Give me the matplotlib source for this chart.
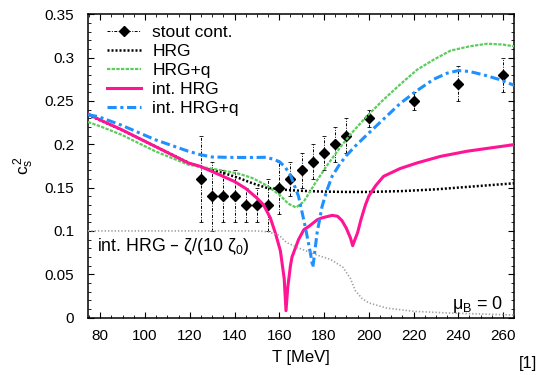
import matplotlib
matplotlib.use("Agg")
import matplotlib.pyplot as plt
from matplotlib.lines import Line2D
from matplotlib.ticker import MultipleLocator, FormatStrFormatter

plt.rcParams.update({"font.family": "Liberation Sans", "font.size": 11,
                     "mathtext.default": "regular", "axes.linewidth": 1.1})

# lattice data (stout continuum)
T_lat = [125, 130, 135, 140, 145, 150, 155, 160, 165, 170, 175, 180, 185, 190, 200, 220, 240, 260]
cs2_lat = [0.16, 0.14, 0.14, 0.14, 0.13, 0.13, 0.13, 0.15, 0.16, 0.17, 0.18, 0.19, 0.20, 0.21,
           0.23, 0.25, 0.27, 0.28]
err_lat = [0.05, 0.04, 0.03, 0.03, 0.02, 0.02, 0.03, 0.03, 0.02, 0.02, 0.02, 0.02, 0.02, 0.02,
           0.01, 0.01, 0.02, 0.02]

# HRG
T_hrg = [74.5, 90, 105, 120, 127, 135, 142, 148, 154, 160, 168, 178, 190, 200, 215, 230, 245, 265]
cs2_hrg = [0.234, 0.216, 0.197, 0.178, 0.172, 0.167, 0.161, 0.155, 0.150, 0.148, 0.1465, 0.1455,
           0.145, 0.145, 0.146, 0.148, 0.151, 0.155]

# HRG+q
T_hrgq = [74.5, 80, 89.5, 104.5, 119.3, 126, 134, 142, 148, 154, 160, 164, 167.5, 171, 176, 182,
          188, 192, 199, 206.6, 214, 221.6, 229, 236.5, 245, 253, 260, 265]
cs2_hrgq = [0.2257, 0.2207, 0.211, 0.192, 0.1765, 0.1735, 0.170, 0.166, 0.161, 0.153, 0.142,
            0.1315, 0.127, 0.134, 0.155, 0.178, 0.199, 0.212, 0.232, 0.2515, 0.269, 0.286,
            0.2976, 0.308, 0.313, 0.316, 0.315, 0.313]

# interacting HRG
T_ihrg = [74.5, 80, 89.5, 104.5, 119.3, 124.7, 134, 140, 145, 150, 153, 156, 158.2, 160.5, 162.2,
          163, 163.8, 165, 165.7, 168.6, 171, 173.1, 177, 179, 183.6, 186, 188, 190, 191.8, 192.8,
          193.8, 195, 196.5, 198.5, 200, 203, 206.6, 214, 221.6, 232, 244, 255, 265]
cs2_ihrg = [0.235, 0.228, 0.2169, 0.1976, 0.1785, 0.1745, 0.164, 0.157, 0.149, 0.138, 0.130,
            0.115, 0.098, 0.077, 0.045, 0.008, 0.035, 0.06, 0.07, 0.090, 0.1015, 0.105, 0.113,
            0.115, 0.118, 0.117, 0.112, 0.103, 0.092, 0.083, 0.090, 0.098, 0.113, 0.130, 0.140,
            0.152, 0.163, 0.172, 0.1785, 0.186, 0.192, 0.196, 0.1996]

# interacting HRG+q
T_ihrgq = [74.5, 79, 89.5, 104.5, 119.3, 124.7, 130, 140, 150, 154, 157, 160, 162.5, 164.9, 168.6,
           171.6, 173.9, 175, 176.9, 179.1, 181.3, 183.6, 187, 190, 194, 199.2, 206.6, 214,
           221.6, 229, 235, 240, 245, 251.4, 258, 265]
cs2_ihrgq = [0.234, 0.232, 0.222, 0.2053, 0.192, 0.188, 0.1853, 0.1848, 0.1848, 0.185, 0.183,
             0.180, 0.174, 0.165, 0.140, 0.105, 0.0746, 0.058, 0.0977, 0.128, 0.147, 0.163,
             0.177, 0.187, 0.198, 0.211, 0.229, 0.247, 0.262, 0.275, 0.282, 0.285, 0.284,
             0.280, 0.275, 0.268]

# int. HRG - zeta/(10 zeta0)
T_zeta = [74.5, 150, 155, 160, 163, 168, 172, 176, 183, 188.5, 191.8, 194, 197, 200, 208, 220,
          235, 265]
val_zeta = [0.1, 0.1, 0.099, 0.095, 0.087, 0.081, 0.077, 0.073, 0.067, 0.058, 0.045, 0.031,
            0.022, 0.017, 0.011, 0.0073, 0.0054, 0.003]

fig = plt.figure(figsize=(5.43, 3.75), dpi=100)
ax = fig.add_axes([0.162, 0.153, 0.785, 0.809])

eb = ax.errorbar(T_lat, cs2_lat, yerr=err_lat, fmt="none", ecolor="black", elinewidth=0.7,
                 capsize=1.5, capthick=0.6, zorder=2)
eb[2][0].set_linestyle((0, (3, 1.5, 1, 1.5)))
ax.plot(T_lat, cs2_lat, "D", color="black", ms=5.3, zorder=2)

ax.plot(T_hrg, cs2_hrg, color="black", lw=1.8, ls=(0, (0.8, 0.8)), zorder=3)
ax.plot(T_hrgq, cs2_hrgq, color="#5ccc5c", lw=1.6, ls=(0, (1.5, 0.6)), zorder=3)
ax.plot(T_ihrg, cs2_ihrg, color="#ff1493", lw=2.2, zorder=4)
ax.plot(T_ihrgq, cs2_ihrgq, color="#1e90ff", lw=2.2, ls=(0, (3, 1.2, 1, 1.2)), zorder=5)
ax.plot(T_zeta, val_zeta, color="#a0a0a0", lw=1.2, ls=(0, (0.8, 1.2)), zorder=6)

ax.set_xlim(74.5, 265)
ax.set_ylim(0, 0.35)
ax.xaxis.set_major_locator(MultipleLocator(20))
ax.xaxis.set_minor_locator(MultipleLocator(5))
ax.yaxis.set_major_locator(MultipleLocator(0.05))
ax.yaxis.set_minor_locator(MultipleLocator(0.01))
ax.yaxis.set_major_formatter(FormatStrFormatter("%g"))
ax.tick_params(which="both", direction="in", top=True, right=True)
ax.tick_params(which="major", length=4, width=0.8)
ax.tick_params(which="minor", length=2.2, width=0.6)
ax.tick_params(axis="y", pad=10)
ax.tick_params(axis="x", pad=8)

ax.set_xlabel("T [MeV]", fontsize=12, labelpad=5)
ax.set_ylabel(r"$c_s^{\,2}$", fontsize=12.5, labelpad=6)

ax.text(78.5, 0.0765, r"int. HRG – ζ/(10 ζ$_0$)", ha="left", va="baseline", fontsize=12.8)
ax.text(260, 0.010, r"μ$_B$ = 0", ha="right", va="baseline", fontsize=13)
fig.text(0.972, 0.03, "[1]", ha="center", va="center", fontsize=12)

handles = [Line2D([], [], color="black", lw=0.7, ls=(0, (3, 1.5, 1, 1.5)), marker="D", ms=5.3),
           Line2D([], [], color="black", lw=1.8, ls=(0, (0.8, 0.8))),
           Line2D([], [], color="#5ccc5c", lw=1.6, ls=(0, (1.5, 0.6))),
           Line2D([], [], color="#ff1493", lw=2.2),
           Line2D([], [], color="#1e90ff", lw=2.2, ls=(0, (3, 1.2, 1, 1.2)))]
labels = ["stout cont.", "HRG", "HRG+q", "int. HRG", "int. HRG+q"]
ax.legend(handles, labels, loc="upper left", bbox_to_anchor=(0.044, 0.965), frameon=False,
          borderpad=0, borderaxespad=0, handlelength=2.0, handletextpad=0.63,
          labelspacing=0.22, fontsize=12.5)

fig.savefig("out.png", dpi=100)
